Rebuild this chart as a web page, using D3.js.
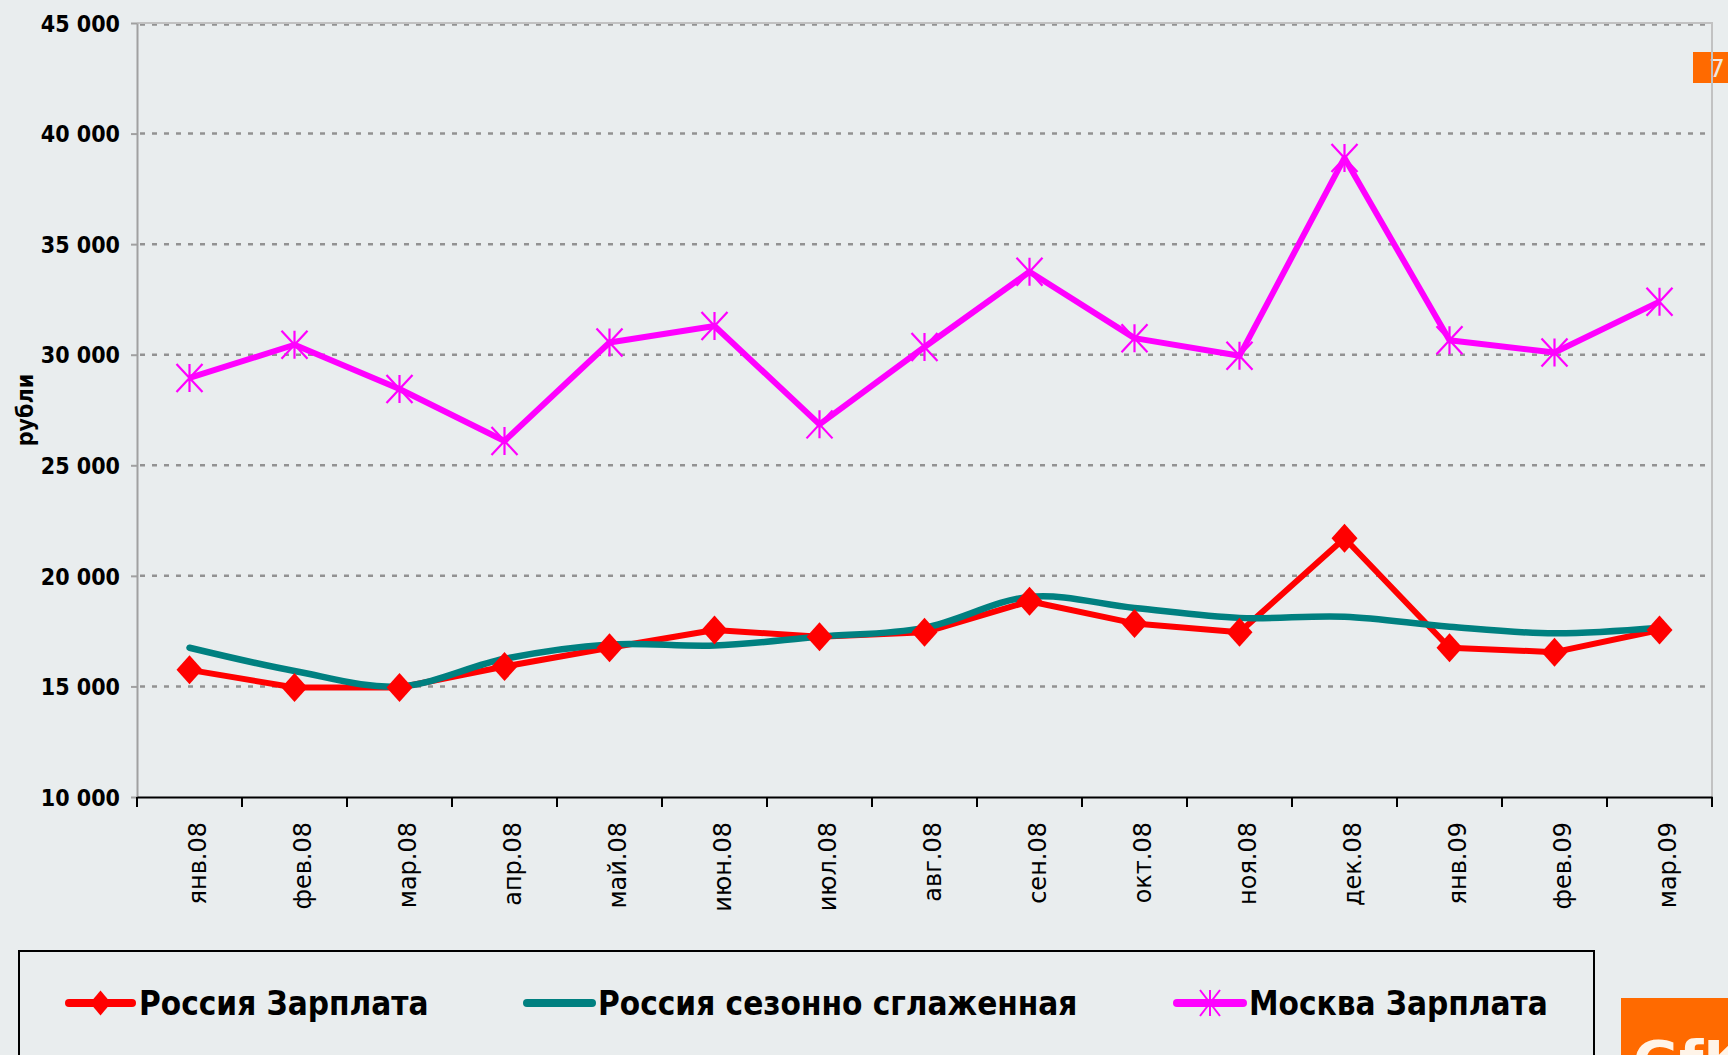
<!DOCTYPE html>
<html>
<head>
<meta charset="utf-8">
<script src="https://cdn.jsdelivr.net/npm/d3@7"></script>
<style>
  html, body { margin: 0; padding: 0; background: #e9edee; overflow: hidden; }
  svg { display: block; }
</style>
</head>
<body>
<script>
var months = ["янв.08", "фев.08", "мар.08", "апр.08", "май.08", "июн.08", "июл.08",
  "авг.08", "сен.08", "окт.08", "ноя.08", "дек.08", "янв.09", "фев.09", "мар.09"];
var russia   = [15750, 14950, 14950, 15900, 16750, 17550, 17250, 17450, 18850, 17850, 17450, 21700, 16750, 16550, 17550];
var smoothed = [16750, 15700, 15000, 16250, 16900, 16850, 17250, 17650, 19050, 18550, 18100, 18150, 17700, 17400, 17650];
var moscow   = [28950, 30450, 28450, 26100, 30550, 31300, 26850, 30350, 33750, 30750, 29950, 38900, 30650, 30100, 32400];
var yTicks = [10000, 15000, 20000, 25000, 30000, 35000, 40000, 45000];
var seriesNames = ["Россия Зарплата", "Россия сезонно сглаженная", "Москва Зарплата"];
var yTitle = "рубли";

var width = 1728, height = 1055;
var plotLeft = 137, plotRight = 1712, plotTop = 23, plotBottom = 797;

var svg = d3.select("body").append("svg")
    .attr("width", width)
    .attr("height", height);

svg.append("rect")
    .attr("width", width).attr("height", height)
    .attr("fill", "#e9edee");

var x = d3.scaleBand().domain(months).range([plotLeft, plotRight]).padding(0);
var y = d3.scaleLinear().domain([10000, 45000]).range([plotBottom, plotTop]);

var fmt = d3.formatLocale({decimal: ",", thousands: " ", grouping: [3], currency: ["", ""]}).format(",.0f");

function cx(d, i) { return x(months[i]) + x.bandwidth() / 2; }

// orange page number box (behind the plot border)
svg.append("rect")
    .attr("x", 1693).attr("y", 52).attr("width", 40).attr("height", 31)
    .attr("fill", "#ff6a00");
svg.append("text")
    .attr("x", 1709).attr("y", 77)
    .attr("font-family", "DejaVu Sans, sans-serif")
    .attr("font-size", 25)
    .attr("fill", "#f2e6dc")
    .text("7");

// gridlines
svg.selectAll(".grid")
    .data(yTicks.filter(function(d) { return d > 10000; }))
    .enter().append("line")
    .attr("class", "grid")
    .attr("x1", plotLeft + 3).attr("x2", plotRight - 2)
    .attr("y1", function(d) { return y(d) + (d === 45000 ? 1.5 : 0); })
    .attr("y2", function(d) { return y(d) + (d === 45000 ? 1.5 : 0); })
    .attr("stroke", "#929292")
    .attr("stroke-width", 2.5)
    .attr("stroke-dasharray", "5,7");

// plot border top / right
svg.append("path")
    .attr("d", "M" + plotLeft + "," + plotTop + "H" + plotRight + "V" + plotBottom)
    .attr("fill", "none")
    .attr("stroke", "#c2c2c2")
    .attr("stroke-width", 2);

// y axis
var yAxis = d3.axisLeft(y).tickValues(yTicks).tickFormat(fmt).tickSize(6).tickSizeOuter(0).tickPadding(11);
var yg = svg.append("g").attr("transform", "translate(" + plotLeft + ",0)").call(yAxis);
yg.select(".domain").attr("stroke", "#a0a0a0").attr("stroke-width", 2);
yg.selectAll(".tick line").attr("stroke", "#a0a0a0").attr("stroke-width", 2);
yg.selectAll(".tick text")
    .attr("font-family", "DejaVu Sans Condensed, DejaVu Sans, sans-serif")
    .attr("font-weight", "bold")
    .attr("font-size", 23)
    .attr("fill", "#000")
    .attr("dy", "0.36em");

// x axis
var xAxis = d3.axisBottom(x).tickSize(0).tickSizeOuter(0);
var xg = svg.append("g").attr("transform", "translate(0," + plotBottom + ")").call(xAxis);
xg.select(".domain").attr("stroke", "#000").attr("stroke-width", 2);
xg.selectAll(".tick text")
    .attr("font-family", "DejaVu Sans, sans-serif")
    .attr("font-size", 24)
    .attr("fill", "#000")
    .attr("text-anchor", "end")
    .attr("transform", "translate(0,25) rotate(-90)")
    .attr("x", 0).attr("y", 0)
    .attr("dy", 16);

// x ticks at category boundaries
var bounds = months.map(function(m) { return x(m); }).concat([plotRight]);
svg.selectAll(".xtick")
    .data(bounds)
    .enter().append("line")
    .attr("class", "xtick")
    .attr("x1", function(d) { return d; }).attr("x2", function(d) { return d; })
    .attr("y1", plotBottom).attr("y2", plotBottom + 10)
    .attr("stroke", "#000").attr("stroke-width", 2);

// y title
svg.append("text")
    .attr("transform", "translate(33,410) rotate(-90)")
    .attr("text-anchor", "middle")
    .attr("font-family", "DejaVu Sans Condensed, DejaVu Sans, sans-serif")
    .attr("font-weight", "bold")
    .attr("font-size", 23)
    .text(yTitle);

var line = d3.line()
    .x(cx)
    .y(function(d) { return y(d); });

var smoothLine = d3.line()
    .x(cx)
    .y(function(d) { return y(d); })
    .curve(d3.curveCardinal.tension(0));

function diamond(w, h) {
  return "M0," + (-h / 2) + "L" + (w / 2) + ",0L0," + (h / 2) + "L" + (-w / 2) + ",0Z";
}
function star(w, h) {
  return "M0," + (-h / 2) + "V" + (h / 2) +
    "M" + (-w / 2) + "," + (-h / 2) + "L" + (w / 2) + "," + (h / 2) +
    "M" + (w / 2) + "," + (-h / 2) + "L" + (-w / 2) + "," + (h / 2);
}

// red line
svg.append("path")
    .datum(russia)
    .attr("d", line)
    .attr("fill", "none")
    .attr("stroke", "#ff0000")
    .attr("stroke-width", 6)
    .attr("stroke-linejoin", "round");

// teal smoothed
svg.append("path")
    .datum(smoothed)
    .attr("d", smoothLine)
    .attr("fill", "none")
    .attr("stroke", "#008080")
    .attr("stroke-width", 6.5)
    .attr("stroke-linecap", "round");

// red markers
svg.selectAll(".dia")
    .data(russia)
    .enter().append("path")
    .attr("class", "dia")
    .attr("transform", function(d, i) { return "translate(" + cx(d, i) + "," + y(d) + ")"; })
    .attr("d", diamond(26, 29))
    .attr("fill", "#ff0000");

// moscow
svg.append("path")
    .datum(moscow)
    .attr("d", line)
    .attr("fill", "none")
    .attr("stroke", "#ff00ff")
    .attr("stroke-width", 6)
    .attr("stroke-linejoin", "round");

svg.selectAll(".star")
    .data(moscow)
    .enter().append("path")
    .attr("class", "star")
    .attr("transform", function(d, i) { return "translate(" + cx(d, i) + "," + y(d) + ")"; })
    .attr("d", star(26, 28))
    .attr("fill", "none")
    .attr("stroke", "#ff00ff")
    .attr("stroke-width", 2.2);

// legend
svg.append("rect")
    .attr("x", 19).attr("y", 951).attr("width", 1575).attr("height", 130)
    .attr("fill", "#e9edee")
    .attr("stroke", "#000")
    .attr("stroke-width", 2);

var legendItems = [
  {name: seriesNames[0], color: "#ff0000", x1: 69, x2: 132, mark: "dia", tx: 139},
  {name: seriesNames[1], color: "#008080", x1: 527, x2: 592, mark: null, tx: 598},
  {name: seriesNames[2], color: "#ff00ff", x1: 1177, x2: 1243, mark: "star", tx: 1249}
];
var ly = 1003;
var lg = svg.selectAll(".legend")
    .data(legendItems)
    .enter().append("g")
    .attr("class", "legend");
lg.append("line")
    .attr("x1", function(d) { return d.x1; })
    .attr("x2", function(d) { return d.x2; })
    .attr("y1", ly).attr("y2", ly)
    .attr("stroke", function(d) { return d.color; })
    .attr("stroke-width", 8)
    .attr("stroke-linecap", "round");
lg.filter(function(d) { return d.mark === "dia"; }).append("path")
    .attr("transform", function(d) { return "translate(" + (d.x1 + d.x2) / 2 + "," + ly + ")"; })
    .attr("d", diamond(21, 25))
    .attr("fill", function(d) { return d.color; });
lg.filter(function(d) { return d.mark === "star"; }).append("path")
    .attr("transform", function(d) { return "translate(" + (d.x1 + d.x2) / 2 + "," + ly + ")"; })
    .attr("d", star(20, 26))
    .attr("fill", "none")
    .attr("stroke", function(d) { return d.color; })
    .attr("stroke-width", 2);
lg.append("text")
    .attr("x", function(d) { return d.tx; })
    .attr("y", 1015)
    .attr("font-family", "DejaVu Sans Condensed, DejaVu Sans, sans-serif")
    .attr("font-weight", "bold")
    .attr("font-size", 33)
    .attr("fill", "#000")
    .text(function(d) { return d.name; });

// orange logo box bottom right (the logo is cut by the page edge, as in the original)
svg.append("rect")
    .attr("x", 1621).attr("y", 998).attr("width", 110).attr("height", 60)
    .attr("fill", "#ff6a00");
svg.append("text")
    .attr("x", 1633).attr("y", 1080)
    .attr("font-family", "DejaVu Sans, sans-serif")
    .attr("font-weight", "bold")
    .attr("font-size", 56)
    .attr("fill", "#fff4e8")
    .text("GfK");
</script>
</body>
</html>
